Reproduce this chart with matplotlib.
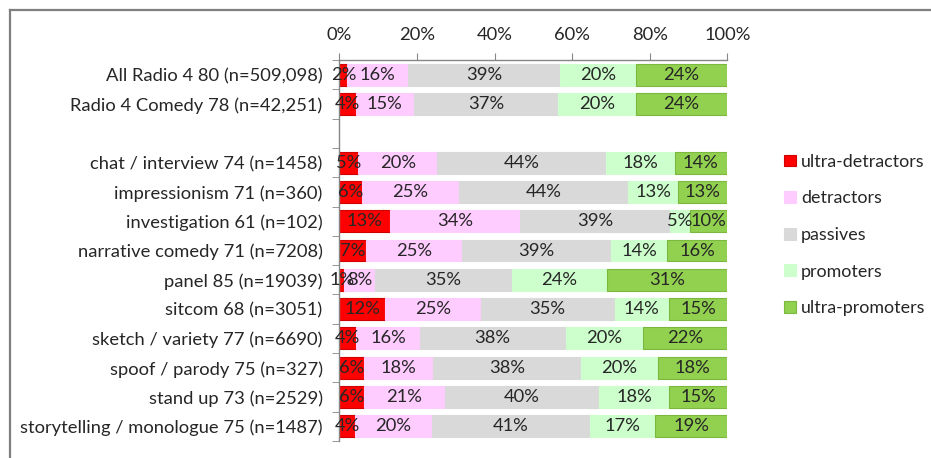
import matplotlib
matplotlib.use("Agg")
import matplotlib.pyplot as plt
from matplotlib.lines import Line2D
import numpy as np

plt.rcParams['font.family'] = ['Lato', 'DejaVu Sans']

categories = [
    "All Radio 4 80 (n=509,098)",
    "Radio 4 Comedy 78 (n=42,251)",
    "chat / interview 74 (n=1458)",
    "impressionism 71 (n=360)",
    "investigation 61 (n=102)",
    "narrative comedy 71 (n=7208)",
    "panel 85 (n=19039)",
    "sitcom 68 (n=3051)",
    "sketch / variety 77 (n=6690)",
    "spoof / parody 75 (n=327)",
    "stand up 73 (n=2529)",
    "storytelling / monologue 75 (n=1487)",
]
# row slot of each category (slot 2 is left empty as a spacer)
slots = [0, 1, 3, 4, 5, 6, 7, 8, 9, 10, 11, 12]

series_names = ["ultra-detractors", "detractors", "passives", "promoters", "ultra-promoters"]
ultra_detractors = [2.1, 4.2, 4.9, 5.9, 13.1, 6.9, 1.2, 11.8, 4.4, 6.3, 6.4, 4.0]
detractors       = [15.6, 15.1, 20.3, 24.9, 33.6, 24.6, 8.1, 24.6, 16.3, 17.9, 20.8, 19.8]
passives         = [39.1, 37.0, 43.6, 43.6, 38.6, 38.6, 35.2, 34.6, 37.6, 38.0, 39.8, 40.9]
promoters        = [19.6, 20.1, 17.6, 13.0, 5.0, 14.3, 24.4, 13.9, 20.1, 19.9, 17.9, 16.7]
ultra_promoters  = [23.6, 23.6, 13.6, 12.6, 9.7, 15.6, 31.1, 15.1, 21.6, 17.9, 15.1, 18.6]

xticks = [0, 20, 40, 60, 80, 100]
xtick_labels = ["0%", "20%", "40%", "60%", "80%", "100%"]

colors = ["#FF0000", "#FFCCFF", "#D9D9D9", "#CCFFCC", "#92D050"]
edges = ["#D00000", "#FFCCFF", "#D9D9D9", "#CCFFCC", "#7DB83E"]

W, H = 931, 458
fig = plt.figure(figsize=(W / 100, H / 100), dpi=100)
x0, x1 = 339.3, 727.3
y0, y1 = 60, 441
ax = fig.add_axes([x0 / W, 1 - y1 / H, (x1 - x0) / W, (y1 - y0) / H])

series = [ultra_detractors, detractors, passives, promoters, ultra_promoters]
left = np.zeros(len(categories))
fs = 13.2
for name, vals, c, ec in zip(series_names, series, colors, edges):
    vals = np.array(vals, dtype=float)
    bars = ax.barh(slots, vals, left=left, height=0.75, color=c, edgecolor=ec,
                   linewidth=0.8, label=name)
    ax.bar_label(bars, labels=[f"{v:.0f}%" for v in vals], label_type='center',
                 fontsize=fs, color="#262626")
    left += vals

ax.set_xlim(0, 100)
ax.set_ylim(12.5, -0.5)
ax.xaxis.tick_top()
ax.set_xticks(xticks)
ax.set_xticklabels(xtick_labels, fontsize=fs, color="#262626")
ax.tick_params(axis='x', length=5, color="#868686", pad=7)

ax.set_yticks(slots)
ax.set_yticklabels(categories, fontsize=fs, color="#262626")
ax.set_yticks(np.arange(-0.5, 13.0, 1.0), minor=True)
ax.tick_params(axis='y', which='major', length=0, pad=12)
ax.tick_params(axis='y', which='minor', length=5, color="#868686")

for s in ["right", "bottom"]:
    ax.spines[s].set_visible(False)
for s in ["left", "top"]:
    ax.spines[s].set_color("#868686")
    ax.spines[s].set_linewidth(1.0)

leg = ax.legend(loc='center left', bbox_to_anchor=(777 / W, 1 - 235 / H),
                bbox_transform=fig.transFigure, frameon=False, fontsize=12.9,
                handlelength=0.65, handleheight=0.65, handletextpad=0.3,
                labelspacing=1.15, borderaxespad=0)
for t in leg.get_texts():
    t.set_color("#262626")

# figure frame (top and left edges visible)
fig.add_artist(Line2D([10 / W, 1], [1 - 10 / H, 1 - 10 / H], transform=fig.transFigure,
                      color="#7F7F7F", linewidth=1.6))
fig.add_artist(Line2D([10 / W, 10 / W], [1 - 10 / H, 0], transform=fig.transFigure,
                      color="#7F7F7F", linewidth=1.6))

fig.savefig("out.png", dpi=100)
